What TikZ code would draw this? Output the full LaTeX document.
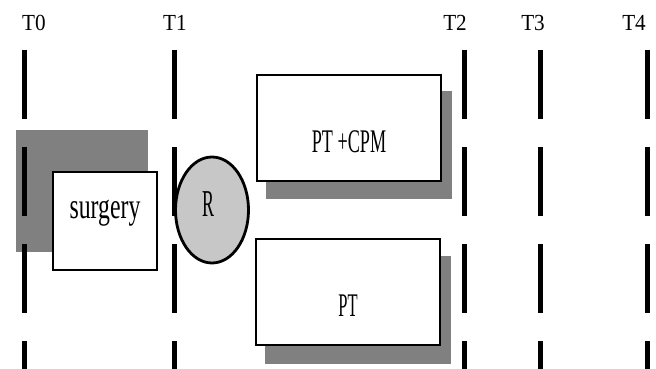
\documentclass[tikz,border=0pt]{standalone}
\usepackage{fontspec}
\setmainfont{Liberation Serif}
\usepackage{graphicx}
\usetikzlibrary{shapes.geometric,positioning,backgrounds}
\newcommand{\squeeze}[2]{\scalebox{#1}[1]{#2}}

\begin{document}
\begin{tikzpicture}[
    x=1pt, y=-1pt,
    timeline/.style={line width=5pt, dash pattern=on 69pt off 28pt},
    tlabel/.style={font=\fontsize{23}{23}\selectfont, inner sep=0pt},
    box/.style={draw, line width=1.5pt, fill=white, minimum width=184pt, minimum height=106pt, inner sep=0pt},
    shadow/.style={fill=black!50},
    boxtext/.style={font=\fontsize{33}{33}\selectfont, inner sep=0pt},
]
    \useasboundingbox (0,0) rectangle (656,369);

    % time points
    \foreach \name/\x/\lx in {T0/24/34, T1/174/175, T2/464/455, T3/540/533, T4/647/634} {
        \coordinate (top\name) at (\x,50);
        \coordinate (bot\name) at (\x,369);
        \node[tlabel] (lab\name) at (\lx,23) {\squeeze{0.92}{\name}};
    }

    % arms
    \node[box, minimum width=104pt, minimum height=98pt] (surgery) at (105,221) {};
    \node[ellipse, draw, line width=2.8pt, fill=black!22, minimum width=73pt, minimum height=106pt, inner sep=0pt] (rand) at (212,210) {};
    \node[box] (cpm) at (349,128) {};
    \node[box] (pt) at (348,292) {};

    \node[boxtext, font=\fontsize{36}{36}\selectfont] (surgerytext) at ([yshift=8pt]surgery.center) {\squeeze{0.66}{surgery}};
    \node[boxtext, font=\fontsize{38}{38}\selectfont] (randtext) at ([xshift=-4pt, yshift=6pt]rand.center) {\squeeze{0.47}{R}};
    \node[boxtext] (cpmtext) at ([yshift=-14pt]cpm.center) {\squeeze{0.55}{PT +CPM}};
    \node[boxtext] (pttext) at ([yshift=-14pt]pt.center) {\squeeze{0.5}{PT}};

    \begin{scope}[on background layer]
        \fill[shadow] ([shift={(-36,-19)}]surgery.south west) rectangle ([shift={(-10,-41)}]surgery.north east);
        \fill[shadow] ([shift={(10,17)}]cpm.south west) rectangle ([shift={(10,17)}]cpm.north east);
        \fill[shadow] ([shift={(10,18)}]pt.south west) rectangle ([shift={(10,18)}]pt.north east);
        \foreach \name in {T0,T1,T2,T3,T4}
            \draw[timeline] (top\name) -- (bot\name);
    \end{scope}
\end{tikzpicture}
\end{document}
